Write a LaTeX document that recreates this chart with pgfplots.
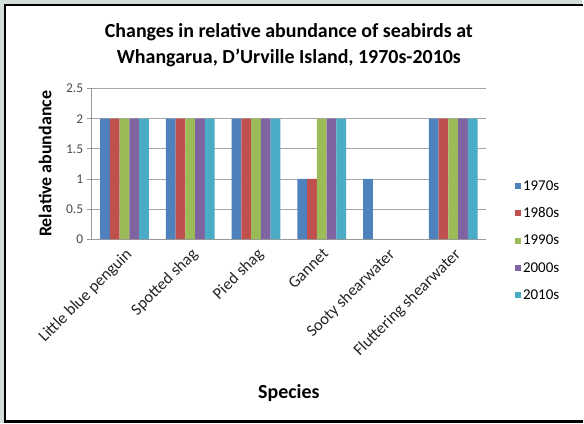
\documentclass[border=0pt]{standalone}
\usepackage{pgfplots}
\pgfplotsset{compat=1.18}
\usepackage{fontspec}
\setmainfont{Carlito}
\definecolor{bgc}{HTML}{D3DED8}
\definecolor{c1}{HTML}{4F81BD}
\definecolor{c2}{HTML}{C0504D}
\definecolor{c3}{HTML}{9BBB59}
\definecolor{c4}{HTML}{8064A2}
\definecolor{c5}{HTML}{4BACC6}
\begin{document}
\begin{tikzpicture}[x=1pt,y=1pt]
\fill[bgc] (-92,-185) rectangle (492,240);
\fill[white] (-87,-183) rectangle (493,235);
\draw[black, line width=2.5pt] (493,235) -- (-87,235) -- (-87,-183) -- (493,-183);
\begin{axis}[
  at={(0,0)}, anchor=south west,
  scale only axis, width=396pt, height=151pt,
  ybar=0pt, bar width=9.8pt,
  ymin=0, ymax=2.5, ytick={0,0.5,1,1.5,2,2.5},
  yticklabels={0,0.5,1,1.5,2,2.5},
  xmin=-0.5, xmax=5.5, xtick={0,1,2,3,4,5},
  xticklabels={Little blue penguin,Spotted shag,Pied shag,Gannet,Sooty shearwater,Fluttering shearwater},
  x tick label style={rotate=45, anchor=north east, font=\fontsize{16.5}{16.5}\selectfont, text=black!85, inner sep=2pt},
  y tick label style={font=\fontsize{13.5}{13.5}\selectfont, text=black!70},
  xtick style={draw=none},
  ytick style={draw=gray!80, line width=0.8pt},
  tick align=outside, major tick length=5pt,
  axis x line*=bottom, axis y line*=left,
  axis line style={draw=gray!80, line width=0.8pt, -},
  ymajorgrids, grid style={draw=gray!70, line width=0.8pt},
  title={Changes in relative abundance of seabirds at\\Whangarua, D'Urville Island, 1970s-2010s},
  title style={font=\bfseries\fontsize{20}{26}\selectfont, align=center, at={(axis description cs:0.5,1)}, anchor=south, yshift=12pt},
  ylabel={Relative abundance},
  ylabel style={font=\bfseries\fontsize{18}{20}\selectfont, at={(axis description cs:-0.118,0.5)}, anchor=center},
  xlabel={Species},
  xlabel style={font=\bfseries\fontsize{20}{20}\selectfont, at={(axis description cs:0.5,-1.027)}, anchor=center},
  legend style={at={(axis description cs:1.073,-0.01)}, anchor=west, draw=none, fill=none, inner sep=0pt,
    font=\fontsize{15}{15}\selectfont, row sep=12pt, legend cell align=left},
  legend image code/.code={\fill[#1] (0pt,-3pt) rectangle (6pt,3pt);},
]
\addplot[fill=c1, draw=none] coordinates {(0,2) (1,2) (2,2) (3,1) (4,1) (5,2)};
\addplot[fill=c2, draw=none] coordinates {(0,2) (1,2) (2,2) (3,1) (5,2)};
\addplot[fill=c3, draw=none] coordinates {(0,2) (1,2) (2,2) (3,2) (5,2)};
\addplot[fill=c4, draw=none] coordinates {(0,2) (1,2) (2,2) (3,2) (5,2)};
\addplot[fill=c5, draw=none] coordinates {(0,2) (1,2) (2,2) (3,2) (5,2)};
\legend{1970s,1980s,1990s,2000s,2010s}
\end{axis}
\end{tikzpicture}
\end{document}
